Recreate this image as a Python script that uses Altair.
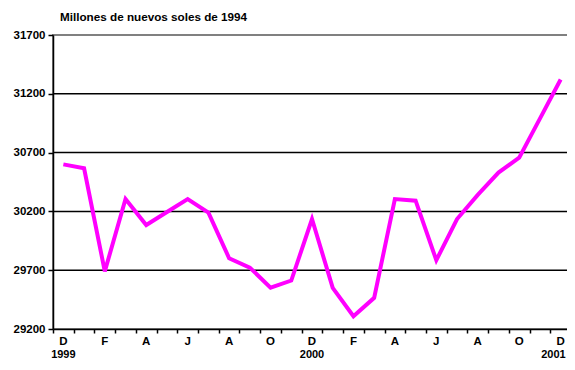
import altair as alt
import pandas as pd

# ---- data ----
months = ["D", "E", "F", "M", "A", "M", "J", "J", "A", "S", "O", "N", "D",
          "E", "F", "M", "A", "M", "J", "J", "A", "S", "O", "N", "D"]
values = [30600, 30567, 29690, 30305, 30084, 30195, 30305, 30190, 29802, 29722,
          29552, 29612, 30135, 29550, 29309, 29465, 30305, 30291, 29785, 30135,
          30340, 30530, 30657, 30989, 31322]
years = ["1999", "2000", "2001"]
year_index = [0, 12, 24]
y_ticks = [29200, 29700, 30200, 30700, 31200, 31700]
grid_values = [29700, 30200, 30700, 31200]
title_text = "Millones de nuevos soles de 1994"

FONT = "Liberation Sans"
W, H = 518, 294

idx = list(range(len(values)))
df = pd.DataFrame({"i": idx, "v": values, "m": months})
df_lab = df[df["i"] % 2 == 0]
df_year = pd.DataFrame({"i": year_index, "y": years})
df_grid = pd.DataFrame({"v": grid_values})
boundaries = [i - 0.5 for i in range(len(values) + 1)]

xscale = alt.Scale(domain=[-0.5, len(values) - 0.5], nice=False, zero=False)
yscale = alt.Scale(domain=[y_ticks[0], y_ticks[-1]], nice=False, zero=False)

xaxis = alt.Axis(values=boundaries, labels=False, title=None, grid=False,
                 tickSize=4, tickColor="black", tickWidth=1.5,
                 domainColor="black", domainWidth=1.5)
yaxis = alt.Axis(values=y_ticks, title=None, grid=False, format="d",
                 tickSize=5, tickColor="black", tickWidth=1.5,
                 domainColor="black", domainWidth=1.5,
                 labelFont=FONT, labelFontSize=11.5, labelFontWeight="bold",
                 labelColor="black", labelPadding=3)

grid = alt.Chart(df_grid).mark_rule(color="black", strokeWidth=1.5).encode(
    y=alt.Y("v:Q", scale=yscale, axis=yaxis)
)

line = alt.Chart(df).mark_line(color="#FF00FF", strokeWidth=4, strokeJoin="miter").encode(
    x=alt.X("i:Q", scale=xscale, axis=xaxis),
    y=alt.Y("v:Q", scale=yscale, axis=yaxis)
)

month_text = alt.Chart(df_lab).mark_text(
    font=FONT, fontSize=11.5, fontWeight="bold", color="black", baseline="middle"
).encode(
    x=alt.X("i:Q", scale=xscale, axis=xaxis),
    y=alt.value(H + 13),
    text="m:N",
)

year_text = alt.Chart(df_year.iloc[:-1]).mark_text(
    font=FONT, fontSize=11, fontWeight="bold", color="black", baseline="alphabetic"
).encode(
    x=alt.X("i:Q", scale=xscale, axis=xaxis),
    y=alt.value(H + 28.5),
    text="y:N",
)

year_last = alt.Chart(df_year.iloc[-1:]).mark_text(
    font=FONT, fontSize=11, fontWeight="bold", color="black", baseline="alphabetic",
    align="right", dx=5
).encode(
    x=alt.X("i:Q", scale=xscale, axis=xaxis),
    y=alt.value(H + 28.5),
    text="y:N",
)

title = alt.Chart(pd.DataFrame({"t": [title_text]})).mark_text(
    font=FONT, fontSize=11.7, fontWeight="bold", color="black",
    align="left", baseline="middle"
).encode(
    x=alt.value(7),
    y=alt.value(-18),
    text="t:N",
)

chart = alt.layer(grid, line, month_text, year_text, year_last, title).properties(
    width=W, height=H,
    autosize=alt.AutoSizeParams(type="none"),
    padding={"left": 45, "top": 27, "right": -4, "bottom": 29},
).configure_view(stroke="#808080", strokeWidth=2)

chart.save("out.html", embed_options={"renderer": "svg", "actions": False})
